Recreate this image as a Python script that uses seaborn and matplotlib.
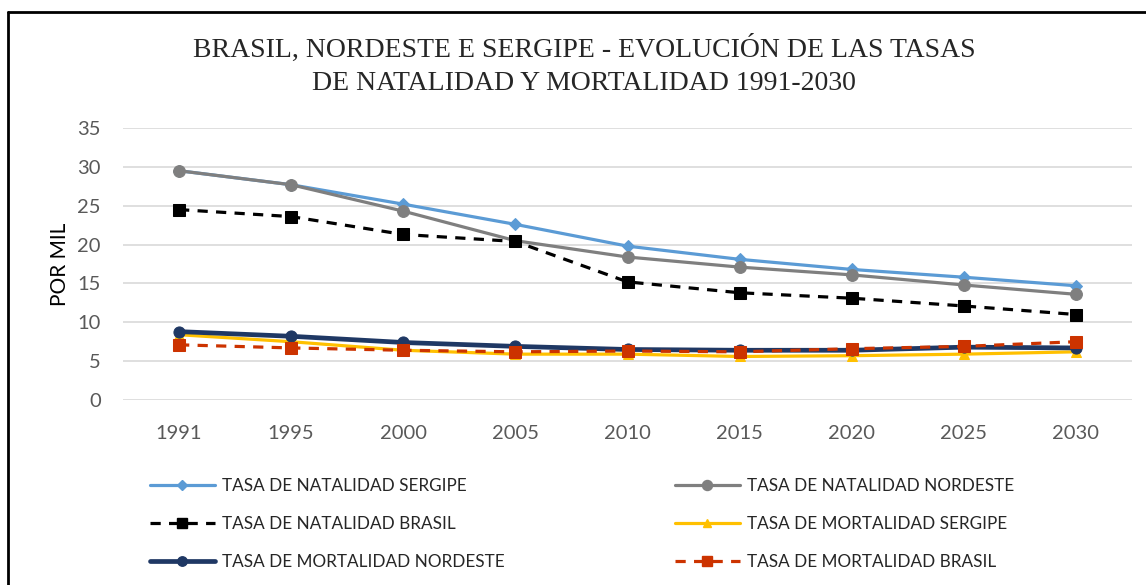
import matplotlib
matplotlib.use("Agg")
import matplotlib.pyplot as plt
import seaborn as sns
import pandas as pd
from matplotlib.lines import Line2D

years = ["1991", "1995", "2000", "2005", "2010", "2015", "2020", "2025", "2030"]
nat_sergipe = [29.5, 27.7, 25.2, 22.6, 19.8, 18.1, 16.8, 15.8, 14.7]
nat_nordeste = [29.5, 27.7, 24.3, 20.5, 18.4, 17.1, 16.1, 14.8, 13.6]
nat_brasil = [24.5, 23.6, 21.3, 20.4, 15.2, 13.8, 13.1, 12.1, 11.0]
mort_sergipe = [8.4, 7.5, 6.4, 5.9, 5.9, 5.6, 5.7, 5.9, 6.2]
mort_nordeste = [8.8, 8.2, 7.4, 6.9, 6.5, 6.4, 6.4, 6.8, 6.7]
mort_brasil = [7.1, 6.7, 6.4, 6.2, 6.3, 6.2, 6.6, 6.9, 7.5]

series_names = [
    "TASA DE NATALIDAD SERGIPE",
    "TASA DE NATALIDAD NORDESTE",
    "TASA DE NATALIDAD BRASIL",
    "TASA DE MORTALIDAD SERGIPE",
    "TASA DE MORTALIDAD NORDESTE",
    "TASA DE MORTALIDAD BRASIL",
]
y_ticks = [0, 5, 10, 15, 20, 25, 30, 35]
title = "BRASIL, NORDESTE E SERGIPE - EVOLUCIÓN DE LAS TASAS\nDE NATALIDAD Y MORTALIDAD 1991-2030"
y_label = "POR MIL"

sns.set_theme(style="white")
plt.rcParams["font.family"] = ["Lato", "DejaVu Sans"]

W, H = 1146, 585
fig = plt.figure(figsize=(W / 100, H / 100), dpi=100)
ax = fig.add_axes([123 / W, 1 - 400 / H, (1132 - 123) / W, (400 - 128) / H])

styles = [
    dict(color="#5B9BD5", marker="D", markersize=6.5, lw=2.3, dash=None),
    dict(color="#7F7F7F", marker="o", markersize=8.5, lw=2.3, dash=None),
    dict(color="#000000", marker="s", markersize=9, lw=2.3, dash=(3.2, 2.6)),
    dict(color="#FFC000", marker="^", markersize=7, lw=2.3, dash=None),
    dict(color="#1F3864", marker="o", markersize=8, lw=3.4, dash=None),
    dict(color="#CC3300", marker="s", markersize=9, lw=2.3, dash=(3.2, 2.6)),
]
all_series = [nat_sergipe, nat_nordeste, nat_brasil, mort_sergipe, mort_nordeste, mort_brasil]

handles = []
for name, vals, st in zip(series_names, all_series, styles):
    df = pd.DataFrame({"year": years, "value": vals})
    sns.lineplot(data=df, x="year", y="value", ax=ax, color=st["color"],
                 marker=st["marker"], markersize=st["markersize"],
                 markeredgecolor=st["color"], markerfacecolor=st["color"],
                 linewidth=st["lw"], sort=False, legend=False)
    line = ax.lines[-1]
    if st["dash"] is not None:
        line.set_dashes(st["dash"])
    h = Line2D([], [], color=st["color"], marker=st["marker"],
               markersize=st["markersize"] * 0.85, markerfacecolor=st["color"],
               markeredgecolor=st["color"], linewidth=st["lw"])
    if st["dash"] is not None:
        h.set_dashes(st["dash"])
    handles.append(h)

ax.set_xlim(-0.5, len(years) - 0.5)
ax.set_ylim(0, 35)
ax.set_yticks(y_ticks)
ax.set_yticklabels([str(t) for t in y_ticks])
ax.grid(axis="y", color="#D9D9D9", linewidth=1.2)
ax.grid(axis="x", visible=False)
for s in ax.spines.values():
    s.set_visible(False)
ax.tick_params(axis="y", length=0, pad=16, labelsize=14.5, labelcolor="#595959")
ax.tick_params(axis="x", length=0, pad=18, labelsize=14.5, labelcolor="#595959")
ax.set_xlabel("")
ax.set_ylabel(y_label, fontsize=15, color="#000000", labelpad=5)

fig.text(584 / W, 1 - 65.5 / H, title, ha="center", va="center",
         fontsize=20, family=["Liberation Serif", "DejaVu Serif"],
         color="#262626", linespacing=1.45)

# Legend: two columns as two legends
col1 = [0, 2, 4]
col2 = [1, 3, 5]
leg_kw = dict(frameon=False, loc="upper left", borderpad=0, borderaxespad=0,
              handlelength=3.8, handletextpad=0.4, labelspacing=1.3,
              prop={"family": ["Lato", "DejaVu Sans"], "size": 12.3})
leg1 = fig.legend([handles[i] for i in col1], [series_names[i] for i in col1],
                  bbox_to_anchor=(150 / W, 1 - 478 / H), **leg_kw)
leg2 = fig.legend([handles[i] for i in col2], [series_names[i] for i in col2],
                  bbox_to_anchor=(675 / W, 1 - 478 / H), **leg_kw)
for lg in (leg1, leg2):
    for t in lg.get_texts():
        t.set_color("#262626")

# Frame border (left and top)
fig.add_artist(Line2D([8 / W, 8 / W], [0, 1 - 12 / H], transform=fig.transFigure,
                      color="black", linewidth=2))
fig.add_artist(Line2D([8 / W, 1], [1 - 12 / H, 1 - 12 / H], transform=fig.transFigure,
                      color="black", linewidth=2))

fig.savefig("out.png", dpi=100)
